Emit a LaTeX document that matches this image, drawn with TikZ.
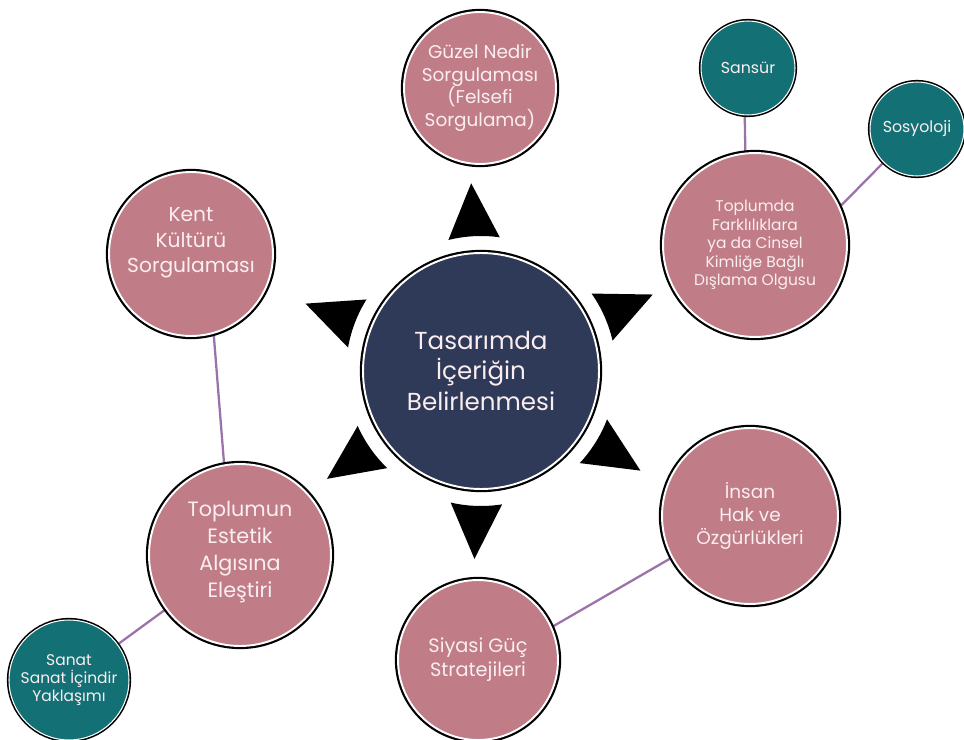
\documentclass[tikz,border=0pt]{standalone}
\usepackage{fontspec}
\setmainfont{Poppins}
\usetikzlibrary{calc}
\pgfdeclarelayer{background}
\pgfsetlayers{background,main}
\definecolor{pinkc}{RGB}{192,125,135}
\definecolor{navyc}{RGB}{47,57,88}
\definecolor{tealc}{RGB}{19,113,118}
\definecolor{linec}{RGB}{155,115,170}
\definecolor{txtc}{RGB}{250,238,240}
\tikzset{
  bub/.style={circle, inner sep=0pt, outer sep=0pt, align=center, text=txtc,
    preaction={draw=black, line width=3.6pt}, draw=white, line width=1.1pt},
  pinkb/.style={bub, fill=pinkc},
  navyb/.style={bub, fill=navyc},
  tealb/.style={circle, inner sep=0pt, outer sep=0pt, align=center, text=txtc,
    fill=tealc, preaction={draw=black, line width=2.4pt}, draw=white, line width=0.6pt},
  conn/.style={draw=linec, line width=1.3pt},
  tri/.style={fill=black}
}
\begin{document}
\begin{tikzpicture}[x=0.02cm,y=-0.02cm]
\useasboundingbox (0,0) rectangle (964,740);

\node[navyb, minimum size=4.72cm, font=\fontsize{14}{17.5}\selectfont] (c) at (481,371) {Tasarımda\\İçeriğin\\Belirlenmesi};

\node[pinkb, minimum size=3.04cm, font=\fontsize{10.5}{12.8}\selectfont] (guzel) at (480,88) {Güzel Nedir\\Sorgulaması\\(Felsefi\\Sorgulama)};
\node[pinkb, minimum size=3.28cm, font=\fontsize{11.5}{14.5}\selectfont] (kent) at (191,254) {Kent\\Kültürü\\Sorgulaması\\[1pt]};
\node[pinkb, minimum size=3.64cm, font=\fontsize{11.8}{15.3}\selectfont] (topl) at (240,555) {Toplumun\\Estetik\\Algısına\\Eleştiri\\[-9pt]};
\node[pinkb, minimum size=3.2cm, font=\fontsize{11}{13.5}\selectfont] (siyasi) at (478,660) {Siyasi Güç\\Stratejileri};
\node[pinkb, minimum size=3.52cm, font=\fontsize{10.5}{13}\selectfont] (insan) at (750,516) {İnsan\\Hak ve\\Özgürlükleri};
\node[pinkb, minimum size=3.68cm, font=\fontsize{8.8}{10.6}\selectfont] (toplumda) at (755,245) {Toplumda\\Farklılıklara\\ya da Cinsel\\Kimliğe Bağlı\\Dışlama Olgusu};

\node[tealb, minimum size=1.88cm, font=\fontsize{9}{11}\selectfont] (sansur) at (748,68) {Sansür};
\node[tealb, minimum size=1.88cm, font=\fontsize{9}{11}\selectfont] (sosyo) at (917,129) {Sosyoloji};
\node[tealb, minimum size=2.4cm, font=\fontsize{8.8}{10}\selectfont] (sanat) at (69,680) {Sanat\\Sanat İçindir\\Yaklaşımı};

\begin{pgfonlayer}{background}
\draw[conn] (kent.-74) -- (topl.100);
\draw[conn] (topl) -- (sanat);
\draw[conn] (siyasi.24) -- (insan.208);
\draw[conn] (sansur.-94) -- (toplumda.96);
\draw[conn] (sosyo.225) -- (toplumda.24);
\end{pgfonlayer}

\foreach \a in {-93,-24,32,92,145,-159}{
  \fill[tri] ($(c.center)+(\a+11:135)$) arc[start angle=\a+11, end angle=\a-11, radius=135]
     -- ($(c.center)+(\a:188)$) -- cycle;
}
\end{tikzpicture}
\end{document}
